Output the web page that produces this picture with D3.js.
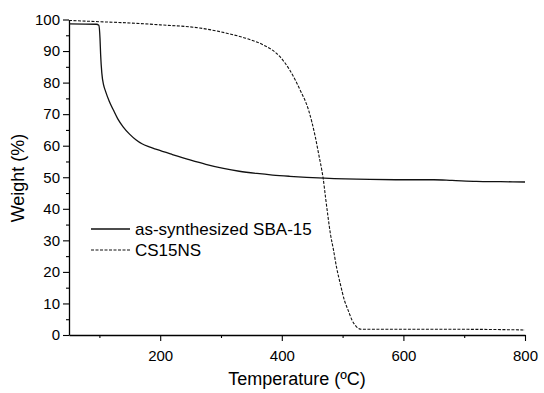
<!DOCTYPE html>
<html>
<head>
<meta charset="utf-8">
<script src="https://cdn.jsdelivr.net/npm/d3@7"></script>
<style>
  body { margin: 0; background: #fff; }
  svg { font-family: "Liberation Sans", Arial, sans-serif; }
</style>
</head>
<body>
<div id="chart"></div>
<script>
// TGA curves: [temperature, weight %]
const sba15 = [
  [50, 98.6], [95, 98.5], [99, 98.2], [101, 94], [102, 89], [104, 83], [107, 79.2], [110, 77.3],
  [116, 74.2], [123, 71.3], [130, 68.6], [139, 66], [150, 63.6], [160, 61.9], [170, 60.6],
  [182, 59.6], [194, 58.8], [220, 57.2], [249, 55.5], [275, 54.1], [304, 52.8], [330, 51.9],
  [359, 51.2], [385, 50.7], [413, 50.3], [470, 49.7], [545, 49.3], [600, 49.2], [650, 49.2],
  [680, 49.0], [720, 48.7], [760, 48.6], [800, 48.5]
];
const cs15ns = [
  [50, 99.7], [100, 99.3], [150, 98.9], [200, 98.3], [265, 97.3], [315, 95.4], [345, 93.8],
  [370, 91.9], [397, 88.2], [413, 84], [430, 77.7], [444, 71.3], [455, 62.9], [461, 57],
  [466, 52], [468, 49.7], [472, 43.5], [476, 37.5], [480, 32], [485, 27], [490, 21.5],
  [496, 16.4], [503, 11], [509, 7.9], [516, 4.5], [523, 2.6], [531, 1.8], [600, 1.8],
  [700, 1.8], [800, 1.6]
];
const seriesNames = ['as-synthesized SBA-15', 'CS15NS'];
const xTicks = [200, 400, 600, 800];
const xMinor = [100, 300, 500, 700];
const yTicks = [0, 10, 20, 30, 40, 50, 60, 70, 80, 90, 100];
const yMinor = [5, 15, 25, 35, 45, 55, 65, 75, 85, 95];

const W = 544, H = 393;
const margin = { top: 19.5, right: 19, bottom: 58, left: 69 };

const svg = d3.select('#chart').append('svg')
  .attr('width', W)
  .attr('height', H);

const x = d3.scaleLinear().domain([50, 800]).range([margin.left, W - margin.right]);
const y = d3.scaleLinear().domain([0, 100]).range([H - margin.bottom, margin.top]);

// minor ticks
svg.append('g')
  .attr('transform', `translate(0,${H - margin.bottom})`)
  .call(d3.axisBottom(x).tickValues(xMinor).tickSize(3).tickFormat(''))
  .call(g => g.select('.domain').remove());
svg.append('g')
  .attr('transform', `translate(${margin.left},0)`)
  .call(d3.axisLeft(y).tickValues(yMinor).tickSize(3).tickFormat(''))
  .call(g => g.select('.domain').remove());

// main axes
const xAxis = svg.append('g')
  .attr('transform', `translate(0,${H - margin.bottom})`)
  .call(d3.axisBottom(x).tickValues(xTicks).tickSize(6).tickSizeOuter(0).tickPadding(9));
xAxis.selectAll('text').attr('font-size', 15).attr('fill', '#000');

const yAxis = svg.append('g')
  .attr('transform', `translate(${margin.left},0)`)
  .call(d3.axisLeft(y).tickValues(yTicks).tickSize(6).tickSizeOuter(0).tickPadding(3));
yAxis.selectAll('text').attr('font-size', 15).attr('fill', '#000');

svg.selectAll('.domain').attr('stroke', '#000').attr('stroke-width', 1.3);
svg.selectAll('.tick line').attr('stroke', '#000').attr('stroke-width', 1.1);

// axis titles
svg.append('text')
  .attr('x', (margin.left + W - margin.right) / 2)
  .attr('y', 385)
  .attr('text-anchor', 'middle')
  .attr('font-size', 18)
  .text('Temperature (ºC)');

svg.append('text')
  .attr('transform', `translate(24,178) rotate(-90)`)
  .attr('text-anchor', 'middle')
  .attr('font-size', 18)
  .text('Weight (%)');

// curves
const line = d3.line()
  .x(d => x(d[0]))
  .y(d => y(d[1]))
  .curve(d3.curveMonotoneX);

svg.append('path')
  .datum(sba15)
  .attr('fill', 'none')
  .attr('stroke', '#111')
  .attr('stroke-width', 1.3)
  .attr('d', line);

svg.append('path')
  .datum(cs15ns)
  .attr('fill', 'none')
  .attr('stroke', '#111')
  .attr('stroke-width', 1.1)
  .attr('stroke-dasharray', '3,1.5')
  .attr('d', line);

// legend
const legend = svg.append('g');
const dashes = [null, '3,1.5'];
seriesNames.forEach((name, i) => {
  const ly = 229 + i * 21;
  legend.append('line')
    .attr('x1', 91).attr('x2', 130)
    .attr('y1', ly).attr('y2', ly)
    .attr('stroke', '#111')
    .attr('stroke-width', i === 0 ? 1.3 : 1.1)
    .attr('stroke-dasharray', dashes[i]);
  legend.append('text')
    .attr('x', 135)
    .attr('y', ly + 6)
    .attr('font-size', 17)
    .text(name);
});
</script>
</body>
</html>
